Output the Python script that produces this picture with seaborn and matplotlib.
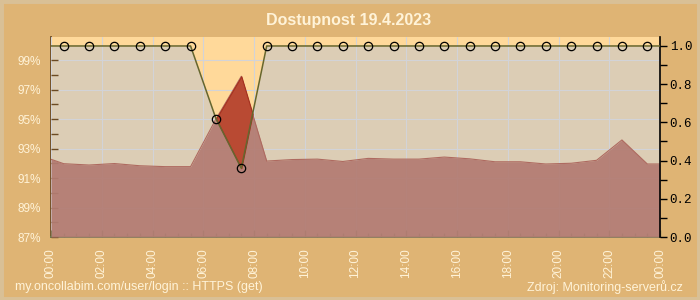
import numpy as np
import matplotlib
matplotlib.use("Agg")
import matplotlib.pyplot as plt
import seaborn as sns
from matplotlib.ticker import FixedLocator, FuncFormatter
from matplotlib.patches import Rectangle

# ---- data ----
title = "Dostupnost 19.4.2023"
footer_left = "my.oncollabim.com/user/login :: HTTPS (get)"
footer_right = "Zdroj: Monitoring-serverů.cz"

hours = [0.0, 0.5, 1.5, 2.5, 3.5, 4.5, 5.5, 6.5, 7.5, 8.5, 9.5, 10.5, 11.5,
         12.5, 13.5, 14.5, 15.5, 16.5, 17.5, 18.5, 19.5, 20.5, 21.5, 22.5, 23.5, 24.0]
pct_values = [92.27, 91.97, 91.88, 91.98, 91.83, 91.77, 91.77, 95.0, 97.9, 92.15,
              92.25, 92.28, 92.12, 92.33, 92.28, 92.28, 92.42, 92.3, 92.1, 92.1,
              91.95, 92.0, 92.2, 93.58, 91.95, 91.95]
availability = [1.0, 1.0, 1.0, 1.0, 1.0, 1.0, 1.0, 0.62, 0.36, 1.0, 1.0, 1.0, 1.0,
                1.0, 1.0, 1.0, 1.0, 1.0, 1.0, 1.0, 1.0, 1.0, 1.0, 1.0, 1.0, 1.0]
x_ticks = [0, 2, 4, 6, 8, 10, 12, 14, 16, 18, 20, 22, 24]
x_tick_labels = ["00:00", "02:00", "04:00", "06:00", "08:00", "10:00", "12:00",
                 "14:00", "16:00", "18:00", "20:00", "22:00", "00:00"]
left_ticks = [87, 89, 91, 93, 95, 97, 99]
right_ticks = [0.0, 0.2, 0.4, 0.6, 0.8, 1.0]

# ---- style ----
sns.set_theme(style="white")
plt.rcParams["font.family"] = ["Liberation Sans", "DejaVu Sans"]

CREAM = "#FFF3D8"
fig = plt.figure(figsize=(7, 3), dpi=100, facecolor="#DFB474")
fig.patches.append(Rectangle((0, 0), 1, 1, transform=fig.transFigure, fill=False,
                             edgecolor="#D9C096", lw=5, zorder=0))

ax = fig.add_axes([51 / 700, 63 / 300, 609 / 700, 200 / 300])
ax.set_facecolor("#FFD99A")
L_LIM = (87, 100.56)
R_LIM = (0, 1.047)
ax.set_xlim(0, 24)
ax.set_ylim(*L_LIM)
ax2 = ax.twinx()
ax2.set_ylim(*R_LIM)

h = np.array(hours)
pct = np.array(pct_values)
av = np.array(availability)
av_left = L_LIM[0] + (av - R_LIM[0]) * (L_LIM[1] - L_LIM[0]) / (R_LIM[1] - R_LIM[0])

ax.set_axisbelow(False)
ax.fill_between(h, L_LIM[0], av_left, color="#DCCDB5", lw=0, zorder=1)
ax.grid(True, color="#D2D3D8", lw=0.8)
ax.fill_between(h, L_LIM[0], pct, color="#B37C73", alpha=0.93, lw=0, zorder=3)
sns.lineplot(x=h, y=pct, ax=ax, color="#AE6A60", lw=0.8, zorder=3.2)
ax.fill_between(h, av_left, pct, where=pct > av_left, interpolate=True,
                facecolor="#B94A33", edgecolor="#A5301E", lw=0.8, zorder=4)

sns.lineplot(x=h, y=av, ax=ax2, color="#66662E", lw=1.1, zorder=5,
             marker="o", markersize=6, markerfacecolor="none",
             markeredgecolor="black", markeredgewidth=0.9,
             markevery=list(range(1, len(hours) - 1)))

# spines
for s in ["top", "right"]:
    ax.spines[s].set_visible(False)
for s in ["top", "left", "bottom"]:
    ax2.spines[s].set_visible(False)
ax.spines["left"].set_color("#6B4A23")
ax.spines["left"].set_linewidth(1.3)
ax.spines["bottom"].set_color("#6B7F4F")
ax.spines["bottom"].set_linewidth(1.3)
ax2.spines["right"].set_color("black")
ax2.spines["right"].set_linewidth(1.2)

# x ticks
ax.xaxis.set_major_locator(FixedLocator(x_ticks))
ax.set_xticklabels(x_tick_labels)
ax.xaxis.set_minor_locator(FixedLocator(np.arange(0, 24.01, 0.5)))
ax.tick_params(axis="x", which="major", direction="in", length=5, width=1,
               color="#6B7F4F", labelcolor=CREAM, labelsize=8.5, rotation=90, pad=8,
               bottom=True)
ax.tick_params(axis="x", which="minor", direction="in", length=3, width=1,
               color="#6B7F4F", bottom=True)
for lbl in ax.get_xticklabels():
    lbl.set_va("top")

# left y ticks
ax.yaxis.set_major_locator(FixedLocator(left_ticks))
ax.yaxis.set_major_formatter(FuncFormatter(lambda v, p: f"{v:.0f}%"))
ax.yaxis.set_minor_locator(FixedLocator([88, 90, 92, 94, 96, 98]))
ax.tick_params(axis="y", which="both", direction="in", length=5, width=1,
               color="#6B4A23", labelcolor=CREAM, labelsize=8.5, pad=7, left=True)

# right y ticks
ax2.yaxis.set_major_locator(FixedLocator(right_ticks))
ax2.yaxis.set_major_formatter(FuncFormatter(lambda v, p: f"{v:.1f}"))
ax2.yaxis.set_minor_locator(FixedLocator([0.1, 0.3, 0.5, 0.7, 0.9]))
ax2.tick_params(axis="y", which="both", direction="out", length=5, width=1,
                color="black", labelcolor="black", labelsize=9, pad=2, right=True)
for lbl in ax2.get_yticklabels():
    lbl.set_family(["Liberation Mono", "DejaVu Sans Mono"])
ax2.set_ylabel("")
ax.set_ylabel("")
ax.set_xlabel("")

fig.text(349 / 700, 1 - 21 / 300, title, ha="center", va="center",
         fontsize=11.5, fontweight="bold", color=CREAM)
fig.text(15 / 700, 1 - 287 / 300, footer_left, ha="left", va="center",
         fontsize=9, color=CREAM)
fig.text(683 / 700, 1 - 287 / 300, footer_right, ha="right", va="center",
         fontsize=9, color=CREAM)

fig.savefig("out.png", dpi=100, facecolor=fig.get_facecolor())
